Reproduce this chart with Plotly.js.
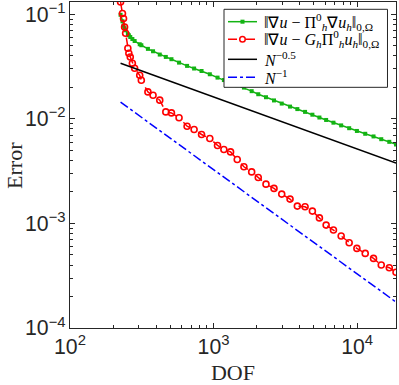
<!DOCTYPE html>
<html>
<head>
<meta charset="utf-8">
<script src="https://cdn.plot.ly/plotly-3.0.1.min.js"></script>
<style>html,body{margin:0;padding:0;background:#fff;}#chart{width:399px;height:385px;}</style>
</head>
<body>
<div id="chart"></div>
<script>
// Degrees of freedom (shared by both error series)
const dof = [225, 232, 236, 240, 244, 253, 257, 263, 272, 282, 306, 314, 349, 379, 422, 465, 509, 575, 654, 732, 825, 942, 1066, 1180, 1314, 1462, 1628, 1843, 2049, 2319, 2637, 2985, 3411, 3835, 4341, 4881, 5463, 6085, 6843, 7745, 8808, 9968, 11391, 13016, 14733, 16760, 18664];
// ||grad u - Pi_h^0 grad u_h||
const errPi = [0.0989, 0.0857, 0.0777, 0.0735, 0.0703, 0.0644, 0.0630, 0.0606, 0.0580, 0.0555, 0.0517, 0.0506, 0.0467, 0.0443, 0.0412, 0.0391, 0.0372, 0.0345, 0.0321, 0.0303, 0.0287, 0.0267, 0.0248, 0.0235, 0.0222, 0.0210, 0.0199, 0.0184, 0.0172, 0.0161, 0.0150, 0.0140, 0.0131, 0.0124, 0.01166, 0.01096, 0.01030, 0.00976, 0.00919, 0.00866, 0.00814, 0.00766, 0.00720, 0.00679, 0.00639, 0.00603, 0.00570];
// ||grad u - G_h Pi_h^0 u_h||
const errG = [0.1311, 0.1016, 0.0910, 0.0756, 0.0658, 0.0473, 0.0424, 0.0391, 0.0340, 0.0305, 0.0261, 0.0234, 0.0181, 0.0168, 0.0151, 0.01166, 0.01140, 0.01026, 0.00851, 0.00792, 0.00709, 0.00649, 0.00557, 0.00510, 0.00483, 0.00409, 0.00348, 0.00311, 0.00275, 0.002376, 0.002162, 0.001907, 0.001708, 0.001464, 0.001442, 0.001312, 0.001129, 0.000964, 0.000864, 0.000757, 0.000653, 0.000577, 0.000517, 0.000463, 0.000400, 0.000377, 0.000341];
// Reference slopes (end points)
const refX = [225, 18664];
const refHalf = [0.0340, 0.00377];
const refOne = [0.01445, 0.000177];

const names = [
  "‖∇<i>u</i> − Π<sup>0</sup><sub><i>h</i></sub>∇<i>u</i><sub><i>h</i></sub>‖<sub>0,Ω</sub>",
  "‖∇<i>u</i> − <i>G</i><sub><i>h</i></sub>Π<sup>0</sup><sub><i>h</i></sub><i>u</i><sub><i>h</i></sub>‖<sub>0,Ω</sub>",
  "<i>N</i><sup>−0.5</sup>",
  "<i>N</i><sup>−1</sup>"
];
const colors = ['#13b313', '#ff0000', '#000000', '#0000ff'];
const dashes = ['solid', 'dash', 'solid', 'dashdot'];

const traces = [
  {x: dof, y: errPi, name: names[0], mode: 'lines+markers',
   line: {color: colors[0], width: 1.5, dash: dashes[0]},
   marker: {symbol: 'square', size: 4, color: colors[0]}},
  {x: dof, y: errG, name: names[1], mode: 'lines+markers',
   line: {color: colors[1], width: 1.5, dash: dashes[1]},
   marker: {symbol: 'circle-open', size: 6, color: colors[1], line: {width: 1.6, color: colors[1]}}},
  {x: refX, y: refHalf, name: names[2], mode: 'lines',
   line: {color: colors[2], width: 1.5, dash: dashes[2]}},
  {x: refX, y: refOne, name: names[3], mode: 'lines',
   line: {color: colors[3], width: 1.5, dash: dashes[3]}}
];

const axisCommon = {
  type: 'log', showline: true, linecolor: '#262626', linewidth: 1, mirror: 'ticks',
  ticks: 'inside', ticklen: 5, tickwidth: 1, tickcolor: '#262626',
  showgrid: false, zeroline: false, dtick: 1, exponentformat: 'power',
  ticklabeloverflow: 'allow',
  tickfont: {family: 'Liberation Sans', size: 17, color: '#262626'},
  minor: {ticks: 'inside', ticklen: 3, tickwidth: 1, tickcolor: '#262626', dtick: 'D1', showgrid: false}
};

// Hand-placed legend box (paper coordinates), entries built from names/colors/dashes
const lgX0 = 0.4724, lgX1 = 0.9739, lgY0 = 0.7383, lgY1 = 0.9776;
const rowY = [0.9396, 0.8856, 0.8242, 0.7690];
const sampleX0 = 0.4847, sampleX1 = 0.5736, markX = 0.5291, textX = 0.5890;
const shapes = [{type: 'rect', xref: 'paper', yref: 'paper', x0: lgX0, x1: lgX1, y0: lgY0, y1: lgY1,
  fillcolor: '#ffffff', line: {color: '#262626', width: 1}, layer: 'above'}];
const annotations = [];
names.forEach((nm, i) => {
  shapes.push({type: 'line', xref: 'paper', yref: 'paper', x0: sampleX0, x1: sampleX1, y0: rowY[i], y1: rowY[i],
    line: {color: colors[i], width: 1.5, dash: dashes[i]}, layer: 'above'});
  annotations.push({xref: 'paper', yref: 'paper', x: textX, y: rowY[i], xanchor: 'left', yanchor: 'middle',
    text: nm, showarrow: false, font: {family: 'Liberation Serif', size: 16, color: '#000000'}});
});
const sq = 0.0062, cr = 0.0085;
shapes.push({type: 'rect', xref: 'paper', yref: 'paper', x0: markX - sq, x1: markX + sq, y0: rowY[0] - sq, y1: rowY[0] + sq,
  fillcolor: colors[0], line: {color: colors[0], width: 0}, layer: 'above'});
shapes.push({type: 'circle', xref: 'paper', yref: 'paper', x0: markX - cr, x1: markX + cr, y0: rowY[1] - cr, y1: rowY[1] + cr,
  fillcolor: '#ffffff', line: {color: colors[1], width: 1.5}, layer: 'above'});

// y-axis title placed as a rotated annotation
annotations.push({xref: 'paper', yref: 'paper', x: -0.172, y: 0.5, xanchor: 'center', yanchor: 'middle',
  text: 'Error', textangle: -90, showarrow: false, borderpad: 0,
  font: {family: 'Liberation Serif', size: 22, color: '#262626'}});

const layout = {
  width: 399, height: 385,
  margin: {l: 70, r: 3, t: 2, b: 57},
  paper_bgcolor: '#ffffff', plot_bgcolor: '#ffffff',
  showlegend: false,
  xaxis: Object.assign({}, axisCommon, {
    range: [2, 4.271],
    title: {text: 'DOF', font: {family: 'Liberation Serif', size: 22, color: '#262626'}, standoff: 6}
  }),
  yaxis: Object.assign({}, axisCommon, {
    range: [-4, -0.8825]
  }),
  shapes: shapes,
  annotations: annotations
};

Plotly.newPlot('chart', traces, layout, {displayModeBar: false, staticPlot: true});
</script>
</body>
</html>
